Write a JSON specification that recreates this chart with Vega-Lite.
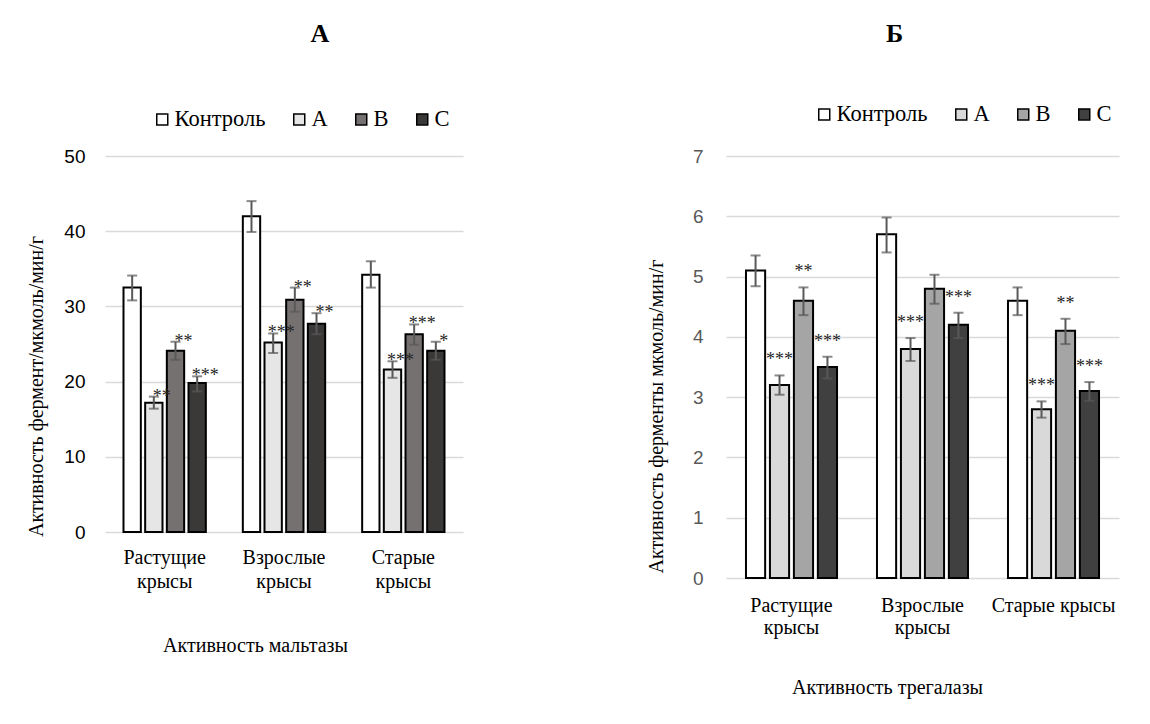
{
  "$schema": "https://vega.github.io/schema/vega-lite/v6.json",
  "background": "white",
  "padding": {"left": 26, "top": 21, "right": 10, "bottom": 10},
  "config": {"view": {"stroke": null}, "font": "Liberation Serif"},
  "datasets": {
    "maltase": [
      {"group": "Растущие крысы", "treatment": "Контроль", "value": 32.5, "lo": 30.8, "hi": 34.1, "sig": ""},
      {"group": "Растущие крысы", "treatment": "A", "value": 17.2, "lo": 16.4, "hi": 18.0, "sig": "**"},
      {"group": "Растущие крысы", "treatment": "B", "value": 24.1, "lo": 22.9, "hi": 25.3, "sig": "**"},
      {"group": "Растущие крысы", "treatment": "C", "value": 19.8, "lo": 18.7, "hi": 20.7, "sig": "***"},
      {"group": "Взрослые крысы", "treatment": "Контроль", "value": 42.0, "lo": 39.9, "hi": 44.0, "sig": ""},
      {"group": "Взрослые крысы", "treatment": "A", "value": 25.2, "lo": 23.8, "hi": 26.4, "sig": "***"},
      {"group": "Взрослые крысы", "treatment": "B", "value": 30.9, "lo": 29.3, "hi": 32.5, "sig": "**"},
      {"group": "Взрослые крысы", "treatment": "C", "value": 27.7, "lo": 26.3, "hi": 29.1, "sig": "**"},
      {"group": "Старые крысы", "treatment": "Контроль", "value": 34.2, "lo": 32.5, "hi": 36.0, "sig": ""},
      {"group": "Старые крысы", "treatment": "A", "value": 21.6, "lo": 20.5, "hi": 22.7, "sig": "***"},
      {"group": "Старые крысы", "treatment": "B", "value": 26.3, "lo": 24.9, "hi": 27.6, "sig": "***"},
      {"group": "Старые крысы", "treatment": "C", "value": 24.1, "lo": 22.9, "hi": 25.3, "sig": "*"}
    ],
    "trehalase": [
      {"group": "Растущие крысы", "treatment": "Контроль", "value": 5.1, "lo": 4.84, "hi": 5.35, "sig": ""},
      {"group": "Растущие крысы", "treatment": "A", "value": 3.2, "lo": 3.04, "hi": 3.36, "sig": "***"},
      {"group": "Растущие крысы", "treatment": "B", "value": 4.6, "lo": 4.36, "hi": 4.82, "sig": "**"},
      {"group": "Растущие крысы", "treatment": "C", "value": 3.5, "lo": 3.31, "hi": 3.67, "sig": "***"},
      {"group": "Взрослые крысы", "treatment": "Контроль", "value": 5.7, "lo": 5.40, "hi": 5.98, "sig": ""},
      {"group": "Взрослые крысы", "treatment": "A", "value": 3.8, "lo": 3.60, "hi": 3.98, "sig": "***"},
      {"group": "Взрослые крысы", "treatment": "B", "value": 4.8, "lo": 4.55, "hi": 5.03, "sig": ""},
      {"group": "Взрослые крысы", "treatment": "C", "value": 4.2, "lo": 3.98, "hi": 4.40, "sig": "***"},
      {"group": "Старые крысы", "treatment": "Контроль", "value": 4.6, "lo": 4.36, "hi": 4.82, "sig": ""},
      {"group": "Старые крысы", "treatment": "A", "value": 2.8, "lo": 2.66, "hi": 2.93, "sig": "***"},
      {"group": "Старые крысы", "treatment": "B", "value": 4.1, "lo": 3.88, "hi": 4.30, "sig": "**"},
      {"group": "Старые крысы", "treatment": "C", "value": 3.1, "lo": 2.94, "hi": 3.25, "sig": "***"}
    ]
  },
  "hconcat": [
    {
      "width": 358,
      "height": 376,
      "title": {"text": "А", "font": "Liberation Serif", "fontSize": 26, "fontWeight": "bold", "color": "black", "anchor": "middle", "frame": "group", "dx": 36, "offset": 61},
      "data": {"name": "maltase"},
      "encoding": {
        "x": {
          "field": "group", "type": "nominal",
          "sort": ["Растущие крысы", "Взрослые крысы", "Старые крысы"],
          "scale": {"paddingInner": 0.31, "paddingOuter": 0.155},
          "axis": {
            "title": "Активность мальтазы",
            "labelExpr": "split(datum.label, ' ')",
            "labelAngle": 0, "labelFont": "Liberation Serif", "labelFontSize": 20, "labelColor": "black",
            "labelPadding": 15, "labelLineHeight": 24, "ticks": false, "domain": false,
            "titleFont": "Liberation Serif", "titleFontSize": 20, "titleFontWeight": "normal", "titleColor": "black",
            "titleX": 150, "titleY": 113, "titleBaseline": "middle", "titleAlign": "center"
          }
        },
        "xOffset": {
          "field": "treatment", "type": "nominal",
          "sort": ["Контроль", "A", "B", "C"],
          "scale": {"paddingInner": 0.2, "paddingOuter": 0}
        }
      },
      "layer": [
        {
          "mark": {"type": "bar", "stroke": "black", "strokeWidth": 2},
          "encoding": {
            "y": {
              "field": "value", "type": "quantitative",
              "scale": {"domain": [0, 50], "nice": false},
              "title": "Активность фермент/мкмоль/мин/г",
              "axis": {
                "values": [0, 10, 20, 30, 40, 50], "format": "d",
                "labelFont": "Liberation Sans", "labelFontSize": 19, "labelColor": "black", "labelPadding": 20,
                "ticks": false, "domain": false, "grid": true, "gridColor": "#d9d9d9", "gridWidth": 1.5,
                "titleFont": "Liberation Serif", "titleFontSize": 20, "titleFontWeight": "normal", "titleColor": "black",
                "titleX": -69, "titleY": 230, "titleBaseline": "middle", "titleAlign": "center"
              }
            },
            "color": {
              "field": "treatment", "type": "nominal",
              "scale": {"domain": ["Контроль", "A", "B", "C"], "range": ["#ffffff", "#e7e6e6", "#767171", "#3b3838"]},
              "legend": {
                "orient": "none", "legendX": 46, "legendY": -48, "direction": "horizontal", "title": null,
                "labelFont": "Liberation Serif", "labelFontSize": 22.5, "labelColor": "black",
                "symbolType": "square", "symbolSize": 121, "symbolStrokeColor": "black", "symbolStrokeWidth": 1.5,
                "columnPadding": 22, "labelOffset": 1
              }
            }
          }
        },
        {
          "mark": {"type": "rule", "color": "#595959", "strokeWidth": 2},
          "encoding": {
            "y": {"field": "lo", "type": "quantitative", "title": "Активность фермент/мкмоль/мин/г"},
            "y2": {"field": "hi"}
          }
        },
        {
          "mark": {"type": "tick", "color": "#595959", "thickness": 2, "size": 10, "orient": "horizontal"},
          "encoding": {"y": {"field": "lo", "type": "quantitative", "title": "Активность фермент/мкмоль/мин/г"}}
        },
        {
          "mark": {"type": "tick", "color": "#595959", "thickness": 2, "size": 10, "orient": "horizontal"},
          "encoding": {"y": {"field": "hi", "type": "quantitative", "title": "Активность фермент/мкмоль/мин/г"}}
        },
        {
          "mark": {"type": "text", "font": "Liberation Serif", "fontSize": 18, "color": "#262626", "align": "center", "baseline": "alphabetic", "dx": 8, "dy": 5},
          "encoding": {
            "y": {"field": "hi", "type": "quantitative", "title": "Активность фермент/мкмоль/мин/г"},
            "text": {"field": "sig"}
          }
        }
      ]
    },
    {
      "width": 393,
      "height": 422,
      "title": {"text": "Б", "font": "Liberation Serif", "fontSize": 26, "fontWeight": "bold", "color": "black", "anchor": "middle", "frame": "group", "dx": -28, "offset": 56},
      "data": {"name": "trehalase"},
      "encoding": {
        "x": {
          "field": "group", "type": "nominal",
          "sort": ["Растущие крысы", "Взрослые крысы", "Старые крысы"],
          "scale": {"paddingInner": 0.305, "paddingOuter": 0.1525},
          "axis": {
            "title": "Активность трегалазы",
            "labelExpr": "datum.label == 'Старые крысы' ? datum.label : split(datum.label, ' ')",
            "labelAngle": 0, "labelFont": "Liberation Serif", "labelFontSize": 20, "labelColor": "black",
            "labelPadding": 17, "labelLineHeight": 22, "ticks": false, "domain": false,
            "titleFont": "Liberation Serif", "titleFontSize": 20, "titleFontWeight": "normal", "titleColor": "black",
            "titleX": 161, "titleY": 109, "titleBaseline": "middle", "titleAlign": "center"
          }
        },
        "xOffset": {
          "field": "treatment", "type": "nominal",
          "sort": ["Контроль", "A", "B", "C"],
          "scale": {"paddingInner": 0.2, "paddingOuter": 0}
        }
      },
      "layer": [
        {
          "mark": {"type": "bar", "stroke": "black", "strokeWidth": 2},
          "encoding": {
            "y": {
              "field": "value", "type": "quantitative",
              "scale": {"domain": [0, 7], "nice": false},
              "title": "Активность ферменты мкмоль/мин/г",
              "axis": {
                "values": [0, 1, 2, 3, 4, 5, 6, 7], "format": "d",
                "labelFont": "Liberation Sans", "labelFontSize": 19, "labelColor": "#595959", "labelPadding": 23,
                "ticks": false, "domain": false, "grid": true, "gridColor": "#d9d9d9", "gridWidth": 1.5,
                "titleFont": "Liberation Serif", "titleFontSize": 20, "titleFontWeight": "normal", "titleColor": "black",
                "titleX": -70, "titleY": 260, "titleBaseline": "middle", "titleAlign": "center"
              }
            },
            "color": {
              "field": "treatment", "type": "nominal",
              "scale": {"domain": ["Контроль", "A", "B", "C"], "range": ["#ffffff", "#d9d9d9", "#a5a5a5", "#404040"]},
              "legend": {
                "orient": "none", "legendX": 87, "legendY": -53, "direction": "horizontal", "title": null,
                "labelFont": "Liberation Serif", "labelFontSize": 22.5, "labelColor": "black",
                "symbolType": "square", "symbolSize": 121, "symbolStrokeColor": "black", "symbolStrokeWidth": 1.5,
                "columnPadding": 22, "labelOffset": 1
              }
            }
          }
        },
        {
          "mark": {"type": "rule", "color": "#595959", "strokeWidth": 2},
          "encoding": {
            "y": {"field": "lo", "type": "quantitative", "title": "Активность ферменты мкмоль/мин/г"},
            "y2": {"field": "hi"}
          }
        },
        {
          "mark": {"type": "tick", "color": "#595959", "thickness": 2, "size": 10, "orient": "horizontal"},
          "encoding": {"y": {"field": "lo", "type": "quantitative", "title": "Активность ферменты мкмоль/мин/г"}}
        },
        {
          "mark": {"type": "tick", "color": "#595959", "thickness": 2, "size": 10, "orient": "horizontal"},
          "encoding": {"y": {"field": "hi", "type": "quantitative", "title": "Активность ферменты мкмоль/мин/г"}}
        },
        {
          "mark": {"type": "text", "font": "Liberation Serif", "fontSize": 18, "color": "#262626", "align": "center", "baseline": "alphabetic", "dx": 0, "dy": -10},
          "encoding": {
            "y": {"field": "hi", "type": "quantitative", "title": "Активность ферменты мкмоль/мин/г"},
            "text": {"field": "sig"}
          }
        }
      ]
    }
  ],
  "spacing": 263,
  "bounds": "flush",
  "resolve": {
    "scale": {"x": "independent", "y": "independent", "color": "independent", "xOffset": "independent"},
    "axis": {"x": "independent", "y": "independent"},
    "legend": {"color": "independent"}
  }
}
